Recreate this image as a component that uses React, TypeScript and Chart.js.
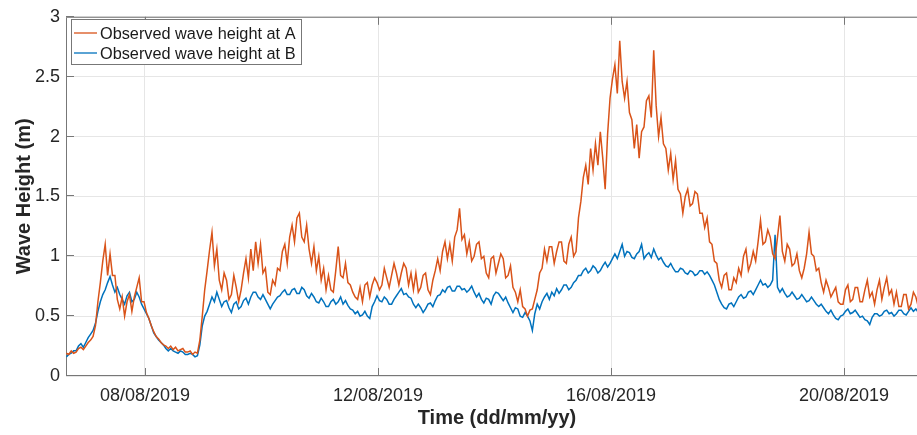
import React, { useEffect, useRef } from 'react';
import { Chart, registerables } from 'chart.js';

Chart.register(...registerables);

// ---- data ----
const SERIES_A_LABEL = 'Observed wave height at A';
const SERIES_B_LABEL = 'Observed wave height at B';
const X_TITLE = 'Time (dd/mm/yy)';
const Y_TITLE = 'Wave Height (m)';

// hourly samples; x in days after 06/08/2019 00:00
const START_DAY = 0.65;
const STEP_DAYS = 1 / 24;

const waveA = [
  0.19, 0.18, 0.21, 0.19, 0.2, 0.23, 0.24, 0.22, 0.25, 0.28,
  0.3, 0.33, 0.42, 0.62, 0.78, 0.96, 1.1, 0.84, 1.02, 0.84,
  0.84, 0.64, 0.56, 0.66, 0.5, 0.62, 0.68, 0.54, 0.66, 0.74,
  0.82, 0.62, 0.62, 0.53, 0.48, 0.42, 0.37, 0.33, 0.31, 0.28,
  0.26, 0.25, 0.23, 0.25, 0.22, 0.24, 0.21, 0.22, 0.23, 0.2,
  0.2, 0.21, 0.18, 0.2, 0.19, 0.3, 0.5, 0.72, 0.88, 1.05,
  1.2, 0.92, 1.06, 0.8, 0.72, 0.86, 0.8, 0.64, 0.68, 0.84,
  0.74, 0.62, 0.72, 0.86, 0.98, 0.82, 1.06, 0.88, 1.12, 0.94,
  1.1, 0.86, 0.9, 0.7, 0.68, 0.8, 0.76, 0.9, 0.88, 1.04,
  1.1, 0.94, 1.16, 1.26, 1.12, 1.32, 1.36, 1.16, 1.12, 1.26,
  1.06, 0.94, 1.08, 0.88, 1.0, 0.8, 0.9, 0.72, 0.84, 0.72,
  0.7, 0.88, 1.08, 0.84, 0.82, 0.94, 0.78, 0.76, 0.7, 0.66,
  0.64, 0.74, 0.62, 0.76, 0.78, 0.66, 0.76, 0.82, 0.78, 0.72,
  0.76, 0.9, 0.82, 0.74, 0.84, 0.94, 0.86, 0.76, 0.86, 0.94,
  0.9, 0.76, 0.86, 0.72, 0.86, 0.7, 0.74, 0.84, 0.86, 0.72,
  0.68, 0.8, 0.88, 0.98, 0.88, 1.04, 1.12, 0.98, 1.1, 0.96,
  1.16, 1.22, 1.4, 1.14, 1.18, 1.02, 1.12, 0.96, 1.0, 1.1,
  1.12, 0.98, 1.0, 0.86, 0.82, 0.98, 1.0, 0.86, 0.94, 1.02,
  0.98, 0.82, 0.84, 0.92, 0.74, 0.7, 0.62, 0.72, 0.58, 0.56,
  0.5, 0.55, 0.56, 0.64, 0.72, 0.86, 0.9, 1.06, 0.96, 1.08,
  1.08, 0.94, 1.04, 1.12, 1.12, 0.96, 0.94, 1.1, 1.16, 1.0,
  1.04, 1.32, 1.46, 1.66, 1.76, 1.6, 1.9, 1.72, 1.94, 1.76,
  2.04, 1.82, 1.56, 2.02, 2.32, 2.48, 2.6, 2.36, 2.8, 2.46,
  2.32, 2.46, 2.2, 2.14, 1.9, 2.1, 1.82, 2.04, 2.08, 2.3,
  2.34, 2.16, 2.72, 2.26, 2.0, 2.16, 1.94, 1.9, 1.72, 1.86,
  1.64, 1.8, 1.56, 1.52, 1.36, 1.5, 1.56, 1.42, 1.44, 1.54,
  1.52, 1.36, 1.36, 1.24, 1.32, 1.12, 1.1, 0.96, 0.94, 0.8,
  0.74, 0.84, 0.86, 0.72, 0.72, 0.82, 0.78, 0.9, 0.84, 1.0,
  1.06, 0.88, 0.94, 1.04, 0.96, 1.12, 1.3, 1.1, 1.12, 1.22,
  1.16, 1.02, 0.98, 1.16, 1.34, 1.04, 0.96, 1.1, 1.06, 0.92,
  0.94, 1.02, 0.88, 0.82, 0.9, 1.02, 1.2, 1.02, 1.0, 0.88,
  0.9, 0.78, 0.7, 0.8, 0.74, 0.66, 0.7, 0.74, 0.62, 0.6,
  0.6, 0.72, 0.76, 0.62, 0.64, 0.74, 0.74, 0.62, 0.62, 0.72,
  0.8, 0.66, 0.7, 0.6, 0.72, 0.8, 0.64, 0.74, 0.82, 0.68,
  0.72, 0.6, 0.7, 0.58, 0.58, 0.68, 0.68, 0.56, 0.6, 0.7,
  0.66, 0.58, 0.64, 0.7,
];

const waveB = [
  0.16, 0.18, 0.19, 0.21, 0.21, 0.25, 0.27, 0.24, 0.28, 0.32,
  0.35, 0.38, 0.44, 0.54, 0.62, 0.68, 0.72, 0.78, 0.83, 0.76,
  0.7, 0.74, 0.68, 0.64, 0.6, 0.67, 0.7, 0.62, 0.64, 0.7,
  0.66, 0.6, 0.56, 0.52, 0.48, 0.42, 0.36, 0.33, 0.3, 0.28,
  0.26, 0.23, 0.21, 0.23, 0.21, 0.2, 0.19, 0.21, 0.2, 0.18,
  0.18, 0.19, 0.18, 0.16, 0.17, 0.26, 0.42, 0.5, 0.54, 0.6,
  0.66, 0.62, 0.7, 0.64, 0.58, 0.62, 0.63, 0.57, 0.53, 0.6,
  0.62, 0.56, 0.58, 0.63, 0.65, 0.6, 0.66, 0.7, 0.7, 0.66,
  0.64, 0.68, 0.64, 0.6, 0.56, 0.6, 0.63, 0.66, 0.67, 0.7,
  0.72, 0.68, 0.68, 0.72, 0.73, 0.69, 0.69, 0.74, 0.72, 0.67,
  0.65, 0.69, 0.66, 0.62, 0.61, 0.65, 0.62, 0.58, 0.58, 0.62,
  0.64, 0.6, 0.62, 0.66, 0.6, 0.63, 0.59, 0.56, 0.55, 0.52,
  0.54, 0.5, 0.51, 0.54, 0.5, 0.48, 0.58, 0.62, 0.67, 0.63,
  0.62, 0.66, 0.64, 0.6, 0.6, 0.64, 0.67, 0.7, 0.73, 0.68,
  0.69, 0.66, 0.65, 0.6, 0.57, 0.6, 0.57, 0.53, 0.56, 0.6,
  0.61, 0.58, 0.63, 0.67, 0.68, 0.72, 0.7, 0.74, 0.75, 0.71,
  0.71, 0.75, 0.75, 0.72, 0.73, 0.7, 0.72, 0.75, 0.7, 0.66,
  0.69, 0.64, 0.61, 0.65, 0.64, 0.6, 0.67, 0.7, 0.69, 0.66,
  0.63, 0.66, 0.61, 0.57, 0.53, 0.57, 0.56, 0.5, 0.49, 0.53,
  0.5, 0.46, 0.38, 0.52, 0.6, 0.56, 0.62, 0.66, 0.69, 0.64,
  0.7, 0.67, 0.73, 0.69, 0.72, 0.76, 0.76, 0.72, 0.74, 0.78,
  0.8, 0.84, 0.84, 0.88, 0.9, 0.86, 0.88, 0.92, 0.9, 0.86,
  0.88, 0.92, 0.95, 0.91, 0.94, 0.98, 1.02, 0.98, 1.04, 1.1,
  1.0, 1.04, 1.03, 0.99, 0.98, 1.02, 1.04, 1.1, 0.98, 1.01,
  1.03, 0.99, 1.06, 1.01, 0.97, 0.99, 0.95, 0.92, 0.91, 0.94,
  0.9, 0.87, 0.87, 0.9, 0.89, 0.86, 0.85, 0.88, 0.87, 0.84,
  0.85, 0.88, 0.88, 0.85, 0.87, 0.84, 0.8, 0.76, 0.7, 0.64,
  0.6, 0.57, 0.56, 0.6, 0.61, 0.58, 0.62, 0.66, 0.68, 0.65,
  0.66, 0.7, 0.71, 0.68, 0.72, 0.76, 0.8, 0.76, 0.77, 0.74,
  0.76, 0.8, 1.18, 0.74, 0.7, 0.73, 0.69, 0.66, 0.67, 0.7,
  0.67, 0.64, 0.65, 0.68, 0.65, 0.62, 0.63, 0.66, 0.63, 0.6,
  0.58, 0.6, 0.57, 0.54, 0.52, 0.55, 0.51, 0.48, 0.47, 0.5,
  0.51, 0.54, 0.56, 0.52, 0.53, 0.55, 0.52, 0.49, 0.5, 0.47,
  0.46, 0.43, 0.49, 0.52, 0.52, 0.5, 0.51, 0.54, 0.55, 0.52,
  0.53, 0.5, 0.52, 0.55, 0.55, 0.52, 0.51, 0.54, 0.57, 0.54,
  0.56, 0.53, 0.54, 0.56,
];

const xTickDays = [2, 6, 10, 14];
const xTickLabels = ['08/08/2019', '12/08/2019', '16/08/2019', '20/08/2019'];
const yTicks = [0, 0.5, 1, 1.5, 2, 2.5, 3];

const X_MIN = 0.6438;
const X_MAX = 15.442;

const COLOR_A = '#D95319';
const COLOR_B = '#0072BD';
const FONT = '"Liberation Sans", Arial, Helvetica, sans-serif';
const AXIS_COLOR = '#777777';
const TEXT_COLOR = '#262626';

const toPoints = (arr: number[]) =>
  arr.map((v, i) => ({ x: START_DAY + i * STEP_DAYS, y: v }));

const framePlugin = {
  id: 'matlabFrame',
  beforeDatasetsDraw(chart: any) {
    const { ctx, chartArea, scales } = chart;
    const { left, right, top, bottom } = chartArea;
    ctx.save();
    ctx.strokeStyle = AXIS_COLOR;
    ctx.lineWidth = 1;
    ctx.beginPath();
    ctx.moveTo(left + 0.5, top + 0.5);
    ctx.lineTo(right - 0.5, top + 0.5);
    ctx.lineTo(right - 0.5, bottom - 0.5);
    ctx.lineTo(left + 0.5, bottom - 0.5);
    ctx.closePath();
    ctx.stroke();
    const tl = 8;
    ctx.beginPath();
    xTickDays.forEach((d) => {
      const x = Math.round(scales.x.getPixelForValue(d)) + 0.5;
      ctx.moveTo(x, bottom);
      ctx.lineTo(x, bottom - tl);
      ctx.moveTo(x, top);
      ctx.lineTo(x, top + tl);
    });
    yTicks.forEach((v) => {
      const y = Math.round(scales.y.getPixelForValue(v)) - 0.5;
      ctx.moveTo(left, y);
      ctx.lineTo(left + tl, y);
      ctx.moveTo(right, y);
      ctx.lineTo(right - tl, y);
    });
    ctx.stroke();
    ctx.restore();
  },
  afterDraw(chart: any) {
    const { ctx, chartArea } = chart;
    ctx.save();
    // axis titles
    ctx.fillStyle = TEXT_COLOR;
    ctx.font = `bold 20px ${FONT}`;
    ctx.textAlign = 'center';
    ctx.textBaseline = 'alphabetic';
    ctx.fillText(X_TITLE, (chartArea.left + chartArea.right) / 2, 424);
    ctx.save();
    ctx.translate(30, (chartArea.top + chartArea.bottom) / 2);
    ctx.rotate(-Math.PI / 2);
    ctx.fillText(Y_TITLE, 0, 0);
    ctx.restore();

    // legend
    const bx = 71.5, by = 19.5, bw = 230, bh = 45;
    ctx.fillStyle = '#ffffff';
    ctx.fillRect(bx, by, bw, bh);
    ctx.strokeStyle = AXIS_COLOR;
    ctx.lineWidth = 1;
    ctx.strokeRect(bx, by, bw, bh);
    const rows = chart.data.datasets;
    ctx.font = `16.3px ${FONT}`;
    ctx.textAlign = 'left';
    rows.forEach((ds: any, i: number) => {
      const cy = 33 + i * 20;
      ctx.strokeStyle = ds.borderColor;
      ctx.lineWidth = 1.3;
      ctx.beginPath();
      ctx.moveTo(74, cy);
      ctx.lineTo(97, cy);
      ctx.stroke();
      ctx.fillStyle = '#1a1a1a';
      ctx.fillText(ds.label, 100, cy + 6);
    });
    ctx.restore();
  },
};

export default function App() {
  const canvasRef = useRef<HTMLCanvasElement | null>(null);

  useEffect(() => {
    if (!canvasRef.current) return;
    const chart = new Chart(canvasRef.current, {
      type: 'line',
      data: {
        datasets: [
          {
            label: SERIES_A_LABEL,
            data: toPoints(waveA),
            borderColor: COLOR_A,
            backgroundColor: COLOR_A,
            borderWidth: 1.5,
            pointRadius: 0,
            tension: 0,
            fill: false,
          },
          {
            label: SERIES_B_LABEL,
            data: toPoints(waveB),
            borderColor: COLOR_B,
            backgroundColor: COLOR_B,
            borderWidth: 1.5,
            pointRadius: 0,
            tension: 0,
            fill: false,
          },
        ],
      },
      options: {
        animation: false,
        responsive: false,
        devicePixelRatio: 1,
        layout: { padding: { top: 15, right: 1, left: 0, bottom: 0 } },
        plugins: {
          legend: { display: false },
          tooltip: { enabled: false },
        },
        scales: {
          x: {
            type: 'linear',
            min: X_MIN,
            max: X_MAX,
            afterBuildTicks: (s: any) => {
              s.ticks = xTickDays.map((v) => ({ value: v }));
            },
            afterFit: (s: any) => {
              s.height = 59;
            },
            ticks: {
              autoSkip: false,
              maxRotation: 0,
              padding: 9,
              color: TEXT_COLOR,
              font: { family: FONT, size: 18 },
              callback: (value: any) => {
                const idx = xTickDays.indexOf(Number(value));
                return idx >= 0 ? xTickLabels[idx] : '';
              },
            },
            grid: { color: '#e6e6e6', lineWidth: 1, drawTicks: false },
            border: { display: false },
          },
          y: {
            type: 'linear',
            min: 0,
            max: 3,
            afterBuildTicks: (s: any) => {
              s.ticks = yTicks.map((v) => ({ value: v }));
            },
            afterFit: (s: any) => {
              s.width = 66;
            },
            ticks: {
              padding: 6,
              color: TEXT_COLOR,
              font: { family: FONT, size: 18 },
              callback: (value: any) => String(value),
            },
            grid: { color: '#e6e6e6', lineWidth: 1, drawTicks: false },
            border: { display: false },
          },
        },
      },
      plugins: [framePlugin],
    });
    return () => chart.destroy();
  }, []);

  return (
    <div
      style={{
        position: 'absolute',
        left: 0,
        top: 0,
        width: 917,
        height: 435,
        overflow: 'hidden',
        background: '#ffffff',
      }}
    >
      <canvas ref={canvasRef} width={929} height={435} style={{ display: 'block' }} />
    </div>
  );
}
